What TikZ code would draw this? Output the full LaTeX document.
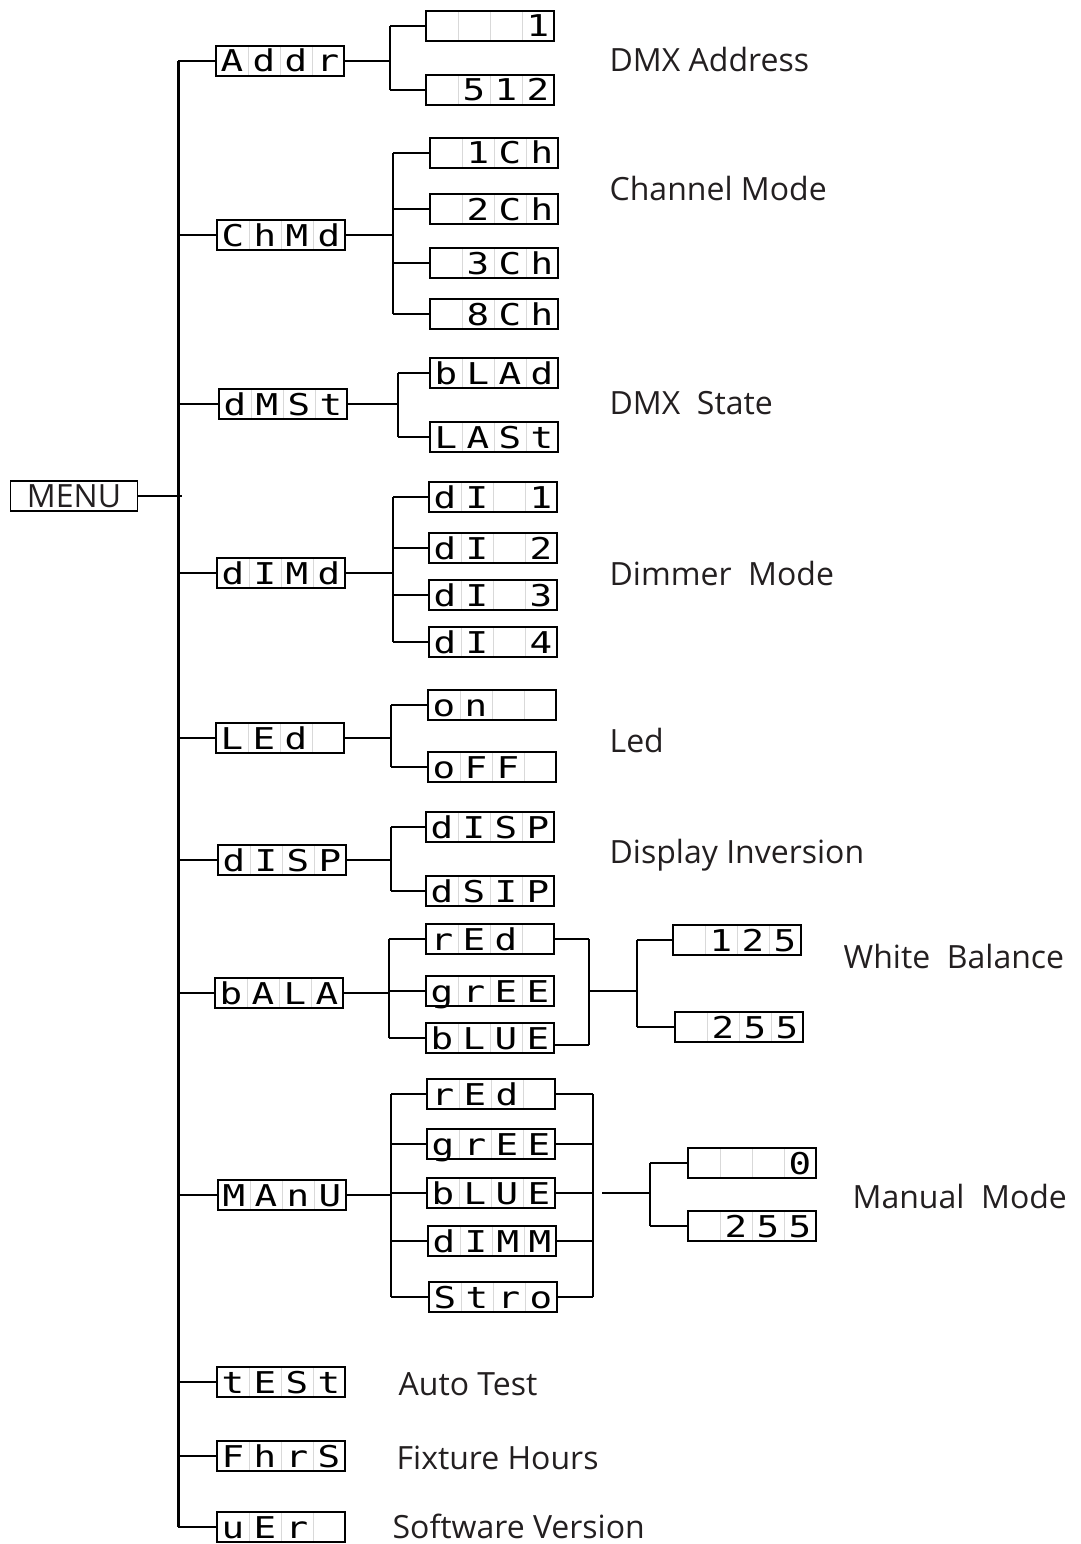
\documentclass[tikz,border=0pt]{standalone}
\usepackage{fontspec}
\usepackage{graphicx}
\setmainfont{Open Sans}
\newfontfamily\lcdfont{DejaVu Sans Mono}
\usetikzlibrary{positioning}

\definecolor{labelgray}{HTML}{231F20}
\newlength{\cellw}
\setlength{\cellw}{32pt}
% one character per cell of the display
\newcommand{\lcdchar}[1]{\makebox[\cellw]{\scalebox{1.25}[1]{#1}}}
\newcommand{\lcd}[4]{\lcdchar{#1}\lcdchar{#2}\lcdchar{#3}\lcdchar{#4}}

\tikzset{
  cellline/.style={black!15, line width=0.8pt},
  disp/.style={draw, line width=1.4pt, inner sep=0pt, minimum width=128pt, minimum height=30pt,
    text height=26pt, text depth=4pt, font=\lcdfont\fontsize{30}{30}\selectfont,
    path picture={\foreach \k in {1,2,3}
      \draw[cellline] ([xshift=\k*32pt]path picture bounding box.south west) -- ([xshift=\k*32pt]path picture bounding box.north west);}},
  menubox/.style={draw, line width=1.4pt, inner sep=0pt, minimum width=127pt, minimum height=30pt,
    text height=23pt, text depth=0pt, text=labelgray, font=\fontsize{32}{32}\selectfont},
  lbl/.style={anchor=base west, inner sep=0pt, text=labelgray, font=\fontsize{32}{32}\selectfont},
  conn/.style={line width=1.3pt},
  branch/.style={line width=2.2pt},
  trunkline/.style={line width=3pt}
}

\begin{document}
\begin{tikzpicture}[x=1pt, y=-1pt, conn]
\useasboundingbox (0,0) rectangle (1081,1544);

% main column
\node[menubox] (menu) at (74,496) {MENU};
\node[disp] (addr) at (280,61) {\lcd{A}{d}{d}{r}};
\node[disp] (chmd) at (281,235) {\lcd{C}{h}{M}{d}};
\node[disp] (dmst) at (283,404) {\lcd{d}{M}{S}{t}};
\node[disp] (dimd) at (281,573) {\lcd{d}{I}{M}{d}};
\node[disp] (led) at (280,738) {\lcd{L}{E}{d}{}};
\node[disp] (disp) at (282,860) {\lcd{d}{I}{S}{P}};
\node[disp] (bala) at (279,993) {\lcd{b}{A}{L}{A}};
\node[disp] (manu) at (282,1195) {\lcd{M}{A}{n}{U}};
\node[disp] (test) at (281,1382) {\lcd{t}{E}{S}{t}};
\node[disp] (fhrs) at (281,1456) {\lcd{F}{h}{r}{S}};
\node[disp] (ver) at (281,1527) {\lcd{u}{E}{r}{}};

% second column
\node[disp] (addr1) at (490,26) {\lcd{}{}{}{1}};
\node[disp] (addr512) at (490,90) {\lcd{}{5}{1}{2}};
\node[disp] (ch1) at (494,153) {\lcd{}{1}{C}{h}};
\node[disp] (ch2) at (494,209) {\lcd{}{2}{C}{h}};
\node[disp] (ch3) at (494,263) {\lcd{}{3}{C}{h}};
\node[disp] (ch8) at (494,314) {\lcd{}{8}{C}{h}};
\node[disp] (blad) at (494,373) {\lcd{b}{L}{A}{d}};
\node[disp] (last) at (494,437) {\lcd{L}{A}{S}{t}};
\node[disp] (dim1) at (493,497) {\lcd{d}{I}{}{1}};
\node[disp] (dim2) at (493,548) {\lcd{d}{I}{}{2}};
\node[disp] (dim3) at (493,595) {\lcd{d}{I}{}{3}};
\node[disp] (dim4) at (493,642) {\lcd{d}{I}{}{4}};
\node[disp] (on) at (492,705) {\lcd{o}{n}{}{}};
\node[disp] (off) at (492,767) {\lcd{o}{F}{F}{}};
\node[disp] (dispa) at (490,827) {\lcd{d}{I}{S}{P}};
\node[disp] (dispb) at (490,891) {\lcd{d}{S}{I}{P}};
\node[disp] (wred) at (490,939) {\lcd{r}{E}{d}{}};
\node[disp] (wgreen) at (490,991) {\lcd{g}{r}{E}{E}};
\node[disp] (wblue) at (490,1038) {\lcd{b}{L}{U}{E}};
\node[disp] (mred) at (491,1094) {\lcd{r}{E}{d}{}};
\node[disp] (mgreen) at (491,1144) {\lcd{g}{r}{E}{E}};
\node[disp] (mblue) at (491,1193) {\lcd{b}{L}{U}{E}};
\node[disp] (mdimm) at (492,1241) {\lcd{d}{I}{M}{M}};
\node[disp] (mstro) at (493,1297) {\lcd{S}{t}{r}{o}};

% third column
\node[disp] (w125) at (737,940) {\lcd{}{1}{2}{5}};
\node[disp] (w255) at (739,1027) {\lcd{}{2}{5}{5}};
\node[disp] (m0) at (752,1163) {\lcd{}{}{}{0}};
\node[disp] (m255) at (752,1226) {\lcd{}{2}{5}{5}};

% labels
\node[lbl] (tAddr) at (609,72) {DMX Address};
\node[lbl] (tChmd) at (609,200) {Channel Mode};
\node[lbl] (tDmst) at (609,414) {DMX\ \ State};
\node[lbl] (tDimd) at (609,585) {Dimmer\ \ Mode};
\node[lbl] (tLed) at (609,752) {Led};
\node[lbl] (tDisp) at (609,863) {Display Inversion};
\node[lbl] (tBala) at (843,968) {White\ \ Balance};
\node[lbl] (tManu) at (852,1208) {Manual\ \ Mode};
\node[lbl] (tTest) at (398,1395) {Auto Test};
\node[lbl] (tFhrs) at (396,1469) {Fixture Hours};
\node[lbl] (tVer) at (392,1538) {Software Version};

% branch lines
\coordinate (trunk) at (178,0);
\coordinate (baddr) at (390,0);
\coordinate (bchmd) at (393,0);
\coordinate (bdmst) at (398,0);
\coordinate (bdimd) at (393,0);
\coordinate (bled) at (391,0);
\coordinate (bdisp) at (391,0);
\coordinate (bbala) at (389,0);
\coordinate (bmanu) at (391,0);
\coordinate (wjoin) at (589,0);
\coordinate (wsplit) at (637,0);
\coordinate (mjoin) at (593,0);
\coordinate (mgap) at (602,0);
\coordinate (msplit) at (650,0);

\draw[trunkline] (addr.west -| trunk) -- (ver.west -| trunk);
\draw (menu.east) -- ([xshift=4pt]menu.east -| trunk);
\foreach \n in {addr,chmd,dmst,dimd,led,disp,bala,manu,test,fhrs,ver}
  \draw (\n.west) -- (\n.west -| trunk);

\draw (addr.east) -- (addr.east -| baddr);
\draw[branch] (addr1.west -| baddr) -- (addr512.west -| baddr);
\foreach \n in {addr1,addr512} \draw (\n.west) -- (\n.west -| baddr);

\draw (chmd.east) -- (chmd.east -| bchmd);
\draw[branch] (ch1.west -| bchmd) -- (ch8.west -| bchmd);
\foreach \n in {ch1,ch2,ch3,ch8} \draw (\n.west) -- (\n.west -| bchmd);

\draw (dmst.east) -- (dmst.east -| bdmst);
\draw[branch] (blad.west -| bdmst) -- (last.west -| bdmst);
\foreach \n in {blad,last} \draw (\n.west) -- (\n.west -| bdmst);

\draw (dimd.east) -- (dimd.east -| bdimd);
\draw[branch] (dim1.west -| bdimd) -- (dim4.west -| bdimd);
\foreach \n in {dim1,dim2,dim3,dim4} \draw (\n.west) -- (\n.west -| bdimd);

\draw (led.east) -- (led.east -| bled);
\draw[branch] (on.west -| bled) -- (off.west -| bled);
\foreach \n in {on,off} \draw (\n.west) -- (\n.west -| bled);

\draw (disp.east) -- (disp.east -| bdisp);
\draw[branch] (dispa.west -| bdisp) -- (dispb.west -| bdisp);
\foreach \n in {dispa,dispb} \draw (\n.west) -- (\n.west -| bdisp);

% white balance
\draw (bala.east) -- (bala.east -| bbala);
\draw[branch] (wred.west -| bbala) -- (wblue.west -| bbala);
\foreach \n in {wred,wgreen,wblue} \draw (\n.west) -- (\n.west -| bbala);
\draw (wred.east) -- (wred.east -| wjoin);
\draw ([yshift=-7pt]wblue.east) -- ([yshift=-7pt]wblue.east -| wjoin);
\draw[branch] (wred.east -| wjoin) -- ([yshift=-7pt]wblue.east -| wjoin);
\draw (wgreen.east -| wjoin) -- (wgreen.east -| wsplit);
\draw[branch] (w125.west -| wsplit) -- (w255.west -| wsplit);
\foreach \n in {w125,w255} \draw (\n.west) -- (\n.west -| wsplit);

% manual mode
\draw (manu.east) -- (manu.east -| bmanu);
\draw[branch] (mred.west -| bmanu) -- (mstro.west -| bmanu);
\foreach \n in {mred,mgreen,mblue,mdimm,mstro} {
  \draw (\n.west) -- (\n.west -| bmanu);
  \draw (\n.east) -- (\n.east -| mjoin);
}
\draw[branch] (mred.east -| mjoin) -- (mstro.east -| mjoin);
\draw (mblue.east -| mgap) -- (mblue.east -| msplit);
\draw[branch] (m0.west -| msplit) -- (m255.west -| msplit);
\foreach \n in {m0,m255} \draw (\n.west) -- (\n.west -| msplit);
\end{tikzpicture}
\end{document}
